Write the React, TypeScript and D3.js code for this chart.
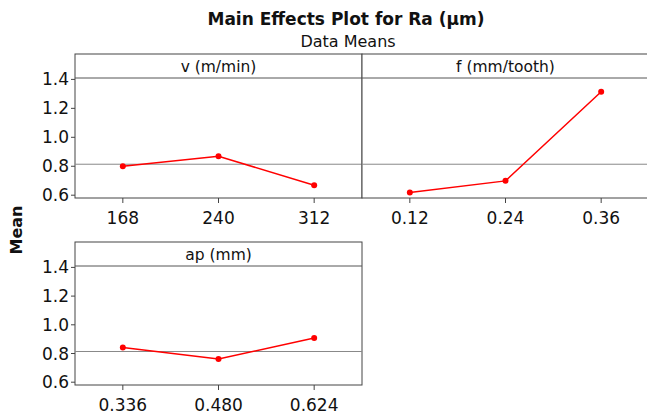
import React from "react";
import * as d3 from "d3";

const vLevels = ["168", "240", "312"];
const vMeans = [0.8, 0.869, 0.669];
const fLevels = ["0.12", "0.24", "0.36"];
const fMeans = [0.618, 0.699, 1.315];
const apLevels = ["0.336", "0.480", "0.624"];
const apMeans = [0.841, 0.761, 0.908];
const grandMean = 0.814;
const yTicks = [0.6, 0.8, 1.0, 1.2, 1.4];
const panelTitles = ["v (m/min)", "f (mm/tooth)", "ap (mm)"];

const FONT = "'DejaVu Sans', sans-serif";

type PanelProps = {
  x: number;
  y: number;
  w: number;
  h: number;
  title: string;
  levels: string[];
  means: number[];
  showY: boolean;
};

const STRIP = 24;

function Panel({ x, y, w, h, title, levels, means, showY }: PanelProps) {
  const xs = d3.scalePoint<string>().domain(levels).range([x, x + w]).padding(0.5);
  const ys = d3.scaleLinear().domain([0.6, 1.4]).range([y + h - 2.8, y + STRIP + 1.4]);
  const line = d3
    .line<number>()
    .x((_, i) => xs(levels[i]) as number)
    .y((d) => ys(d));
  return (
    <g>
      <rect x={x} y={y} width={w} height={h} fill="white" stroke="#444" strokeWidth={1} />
      <line x1={x} x2={x + w} y1={y + STRIP} y2={y + STRIP} stroke="#555" strokeWidth={1} />
      <text x={x + w / 2} y={y + STRIP / 2 + 5.5} textAnchor="middle" fontSize={15.5} fontFamily={FONT} fill="#111">
        {title}
      </text>
      <line x1={x} x2={x + w} y1={ys(grandMean)} y2={ys(grandMean)} stroke="#888" strokeWidth={1} />
      <path d={line(means) || ""} fill="none" stroke="#ff0000" strokeWidth={1.5} />
      {means.map((m, i) => (
        <circle key={i} cx={xs(levels[i]) as number} cy={ys(m)} r={3} fill="#ff0000" />
      ))}
      {levels.map((l) => (
        <g key={l}>
          <line x1={xs(l) as number} x2={xs(l) as number} y1={y + h} y2={y + h + 5} stroke="#444" />
          <text x={xs(l) as number} y={y + h + 26} textAnchor="middle" fontSize={17} fontFamily={FONT} fill="#111">
            {l}
          </text>
        </g>
      ))}
      {showY &&
        yTicks.map((t) => (
          <g key={t}>
            <line x1={x - 4} x2={x} y1={ys(t)} y2={ys(t)} stroke="#444" />
            <text x={x - 6} y={ys(t) + 6} textAnchor="end" fontSize={17} fontFamily={FONT} fill="#111">
              {t.toFixed(1)}
            </text>
          </g>
        ))}
    </g>
  );
}

export default function App() {
  const W = 647;
  const H = 418;
  return (
    <svg width={W} height={H} style={{ position: "absolute", left: 0, top: 0, background: "white" }}>
      <rect width={W} height={H} fill="white" />
      <text x={346} y={25} textAnchor="middle" fontSize={17} fontWeight="bold" fontFamily={FONT} fill="#111">
        Main Effects Plot for Ra (µm)
      </text>
      <text x={348} y={47} textAnchor="middle" fontSize={16} fontFamily={FONT} fill="#111">
        Data Means
      </text>
      <text
        transform="translate(22,230) rotate(-90)"
        textAnchor="middle"
        fontSize={16}
        fontWeight="bold"
        fontFamily={FONT}
        fill="#111"
      >
        Mean
      </text>
      <Panel x={75} y={54} w={287} h={144} title={panelTitles[0]} levels={vLevels} means={vMeans} showY={true} />
      <Panel x={362} y={54} w={287} h={144} title={panelTitles[1]} levels={fLevels} means={fMeans} showY={false} />
      <Panel x={75} y={242} w={287} h={143} title={panelTitles[2]} levels={apLevels} means={apMeans} showY={true} />
    </svg>
  );
}
